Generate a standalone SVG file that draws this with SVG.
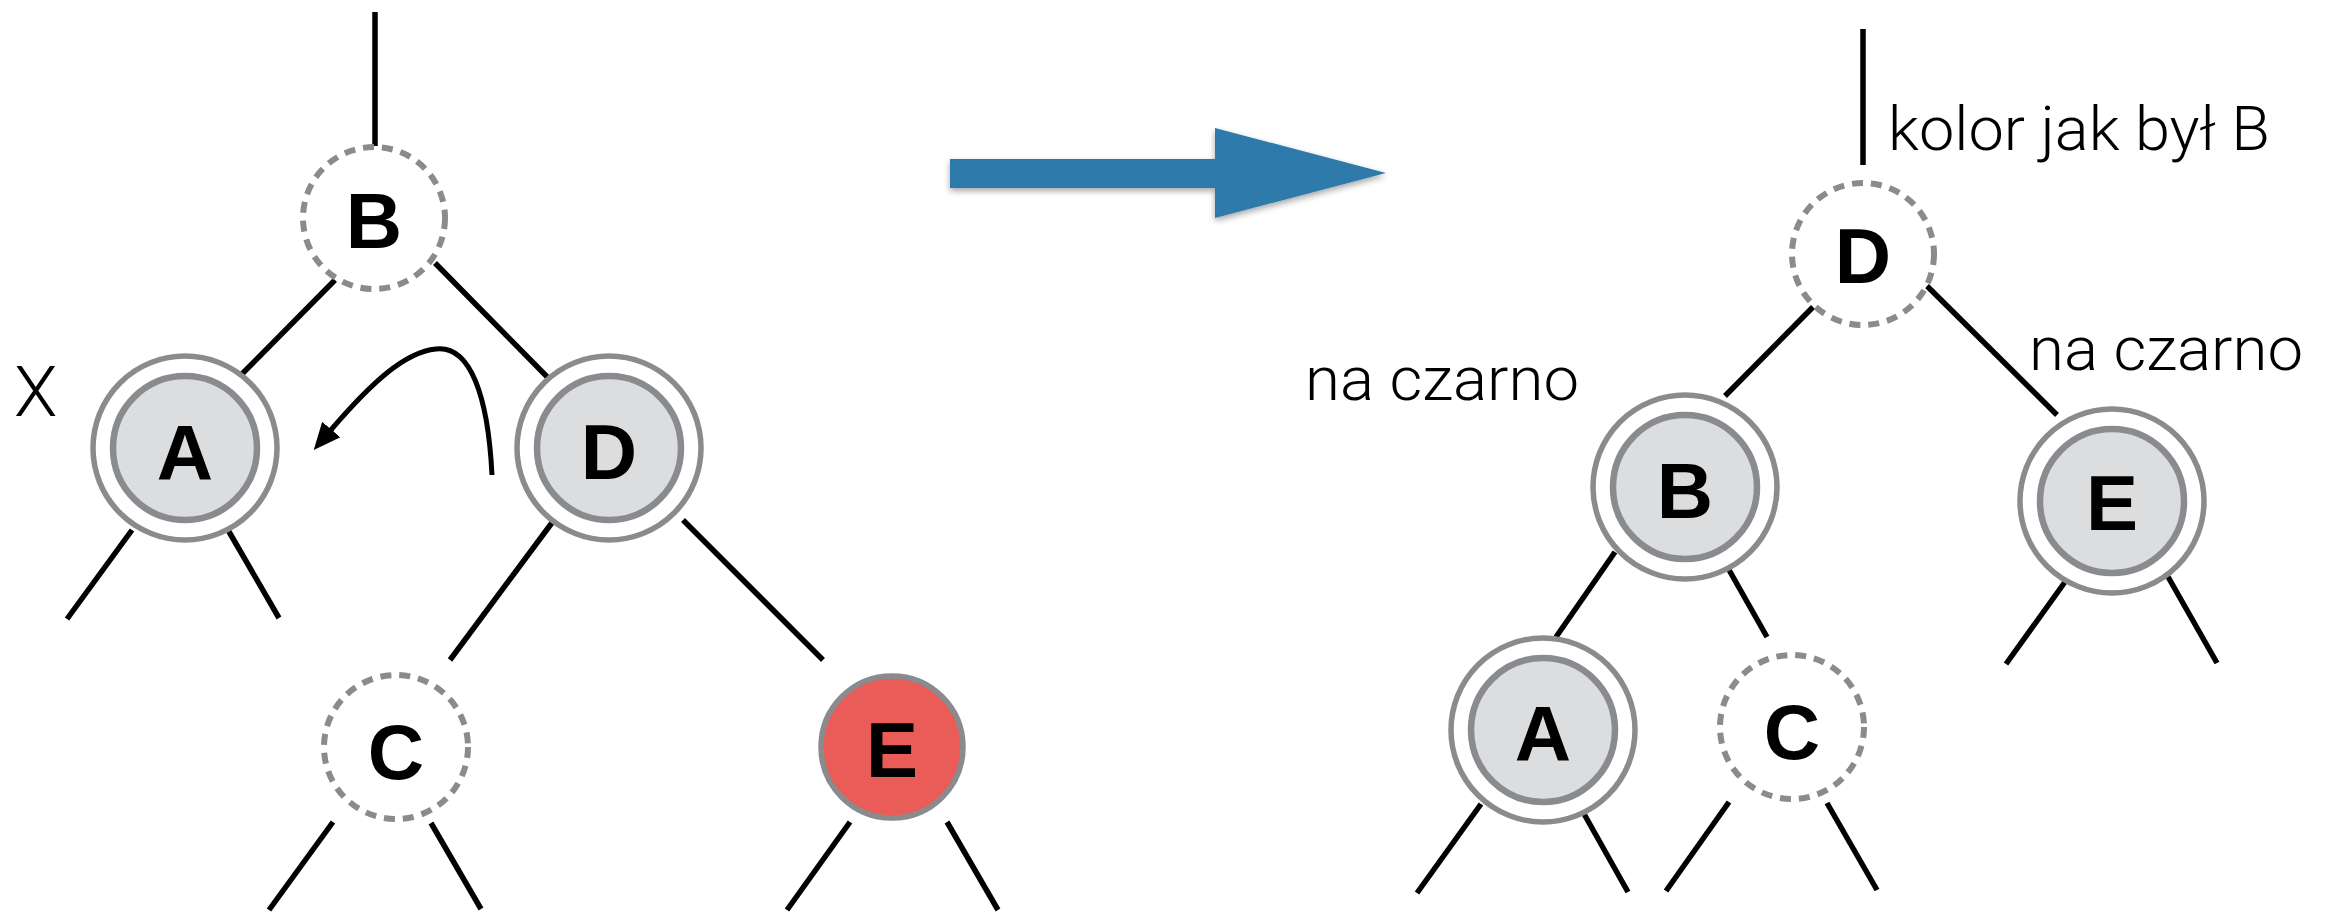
<svg xmlns="http://www.w3.org/2000/svg" width="2326" height="915" viewBox="0 0 2326 915">
  <style>
    .edge { stroke: #000; stroke-width: 5.5; fill: none; }
    .ring { fill: #fff; stroke: #898b8e; stroke-width: 5.5; }
    .core { fill: #dcdddf; stroke: #898b8e; stroke-width: 6.5; }
    .dash { fill: #fff; stroke: #898b8e; stroke-width: 6; stroke-dasharray: 11 8; }
    .red  { fill: #e95c57; stroke: #898b8e; stroke-width: 5.5; }
    .key  { font-family: "Liberation Sans", Arial, sans-serif; font-weight: bold; font-size: 78px; text-anchor: middle; fill: #000; }
    .note { font-family: Roboto, "Liberation Sans", sans-serif; font-weight: 300; font-size: 62px; fill: #000; }
  </style>
  <defs>
    <marker id="head" markerUnits="userSpaceOnUse" markerWidth="30" markerHeight="30" refX="2" refY="12" orient="auto" viewBox="0 0 30 24">
      <path d="M0,0 L27,12 L0,24 Z" fill="#000"/>
    </marker>
    <filter id="shadow" x="-10%" y="-30%" width="120%" height="170%">
      <feDropShadow dx="0" dy="3" stdDeviation="3" flood-color="#000" flood-opacity="0.35"/>
    </filter>
  </defs>

  <rect width="2326" height="915" fill="#fff"/>

  <!-- connectors -->
  <g id="connectors" class="edge">
    <!-- left tree -->
    <line x1="375" y1="12" x2="375" y2="146"/>
    <line x1="335" y1="280" x2="237" y2="379"/>
    <line x1="435" y1="263" x2="568" y2="398"/>
    <line x1="132" y1="530" x2="67" y2="619"/>
    <line x1="228" y1="530" x2="279" y2="618"/>
    <line x1="554" y1="520" x2="450" y2="660"/>
    <line x1="683" y1="520" x2="823" y2="660"/>
    <line x1="333" y1="822" x2="269" y2="910"/>
    <line x1="431" y1="823" x2="481" y2="909"/>
    <line x1="850" y1="822" x2="787" y2="910"/>
    <line x1="947" y1="822" x2="998" y2="910"/>
    <!-- rotation hint -->
    <path d="M492,475 C488,395 470,345 436,349 C405,352 372,382 330,431" stroke-width="5" marker-end="url(#head)"/>
    <!-- right tree -->
    <line x1="1863" y1="29" x2="1863" y2="165"/>
    <line x1="1813" y1="307" x2="1725" y2="396"/>
    <line x1="1927" y1="286" x2="2057" y2="415"/>
    <line x1="1615" y1="552" x2="1556" y2="637"/>
    <line x1="1720" y1="554" x2="1767" y2="637"/>
    <line x1="1481" y1="804" x2="1417" y2="893"/>
    <line x1="1579" y1="805" x2="1628" y2="892"/>
    <line x1="1729" y1="802" x2="1666" y2="891"/>
    <line x1="1827" y1="803" x2="1877" y2="890"/>
    <line x1="2070" y1="575" x2="2006" y2="664"/>
    <line x1="2167" y1="575" x2="2217" y2="663"/>
  </g>

  <!-- transformation arrow -->
  <g id="transform-arrow" filter="url(#shadow)" fill="#2e7aab">
    <rect x="950" y="159" width="267" height="29"/>
    <polygon points="1215,128 1386,173 1215,218"/>
  </g>

  <!-- left tree nodes -->
  <g id="l-B">
    <circle class="dash" cx="374" cy="218" r="71"/>
    <text class="key" x="374" y="248">B</text>
  </g>
  <g id="l-A">
    <circle class="ring" cx="185" cy="448" r="92"/>
    <circle class="core" cx="185" cy="448" r="72"/>
    <text class="key" x="185" y="480">A</text>
  </g>
  <g id="l-D">
    <circle class="ring" cx="609" cy="448" r="92"/>
    <circle class="core" cx="609" cy="448" r="72"/>
    <text class="key" x="609" y="479">D</text>
  </g>
  <g id="l-C">
    <circle class="dash" cx="396" cy="747" r="72"/>
    <text class="key" x="396" y="779">C</text>
  </g>
  <g id="l-E">
    <circle class="red" cx="892" cy="747" r="71"/>
    <text class="key" x="892" y="777">E</text>
  </g>

  <!-- right tree nodes -->
  <g id="r-D">
    <circle class="dash" cx="1863" cy="254" r="71"/>
    <text class="key" x="1863" y="283">D</text>
  </g>
  <g id="r-B">
    <circle class="ring" cx="1685" cy="487" r="92"/>
    <circle class="core" cx="1685" cy="487" r="72"/>
    <text class="key" x="1685" y="518">B</text>
  </g>
  <g id="r-E">
    <circle class="ring" cx="2112" cy="501" r="92"/>
    <circle class="core" cx="2112" cy="501" r="72"/>
    <text class="key" x="2112" y="530">E</text>
  </g>
  <g id="r-A">
    <circle class="ring" cx="1543" cy="730" r="92"/>
    <circle class="core" cx="1543" cy="730" r="72"/>
    <text class="key" x="1543" y="761">A</text>
  </g>
  <g id="r-C">
    <circle class="dash" cx="1792" cy="727" r="72"/>
    <text class="key" x="1792" y="759">C</text>
  </g>

  <!-- annotations -->
  <g id="labels" class="note">
    <text x="14" y="416" font-size="71">X</text>
    <text x="1888" y="150" font-size="61" textLength="382" lengthAdjust="spacingAndGlyphs">kolor jak był B</text>
    <text x="1305" y="400" textLength="274" lengthAdjust="spacingAndGlyphs">na czarno</text>
    <text x="2029" y="370" textLength="274" lengthAdjust="spacingAndGlyphs">na czarno</text>
  </g>
</svg>
